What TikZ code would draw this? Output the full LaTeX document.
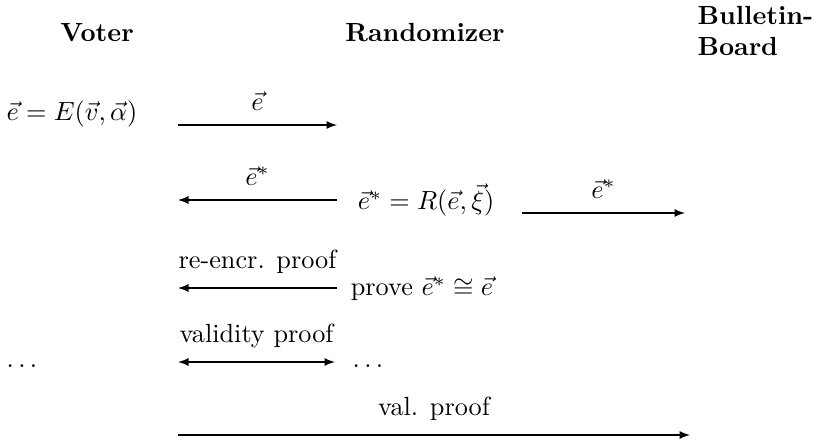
\documentclass[tikz,border=0pt]{standalone}
\usepackage{fontspec}
\setmainfont{Latin Modern Roman}
\usetikzlibrary{positioning}
\begin{document}
\begin{tikzpicture}[x=0.381pt, y=-0.381pt,
  actor/.style={font=\bfseries, inner sep=0pt},
  term/.style={inner sep=0pt},
  msg/.style={-latex},
  lbl/.style={above=2pt, midway}]
  \useasboundingbox (0,0) rectangle (821,442);

  % parties
  \node[actor] (voter) at (97,33) {Voter};
  \node[actor] (rand) at (425,33) {Randomizer};
  \node[actor, align=left, anchor=west] (board) at (697,31) {Bulletin-\\Board};

  % encryption by the voter
  \node[term] (enc) at (72,114) {$\vec{e}=E(\vec{v},\vec{\alpha})$};
  \coordinate (v1) at (178,125);
  \coordinate (r1) at (337,125);
  \draw[msg] (v1) -- node[lbl] {$\vec{e}$} (r1);

  % re-encryption by the randomizer
  \node[term] (reenc) at (426,200) {$\vec{e}^{*}=R(\vec{e},\vec{\xi})$};
  \coordinate (r2) at (337,200);
  \coordinate (v2) at (178,200);
  \draw[msg] (r2) -- node[lbl] {$\vec{e}^{*}$} (v2);
  \coordinate (r2b) at (522,213);
  \coordinate (b2) at (685,213);
  \draw[msg] (r2b) -- node[lbl] {$\vec{e}^{*}$} (b2);

  % proof of re-encryption
  \node[term] (prove) at (422,289) {prove $\vec{e}^{*}\cong\vec{e}$};
  \coordinate (r3) at (337,288);
  \coordinate (v3) at (178,288);
  \draw[msg] (r3) -- node[lbl] {re-encr. proof} (v3);

  % validity proof, both ways
  \node[term] (vdots) at (22,366) {$\dots$};
  \node[term] (rdots) at (368,366) {$\dots$};
  \coordinate (v4) at (178,362);
  \coordinate (r4) at (335,362);
  \coordinate (m4a) at (240,362);
  \coordinate (m4b) at (272,362);
  \path (v4) -- node[lbl] {validity proof} (r4);
  \draw[msg] (m4b) -- (v4);
  \draw[msg] (m4a) -- (r4);

  % final proof to the board
  \coordinate (v5) at (178,435);
  \coordinate (b5) at (690,435);
  \draw[msg] (v5) -- node[lbl] {val. proof} (b5);
\end{tikzpicture}
\end{document}
